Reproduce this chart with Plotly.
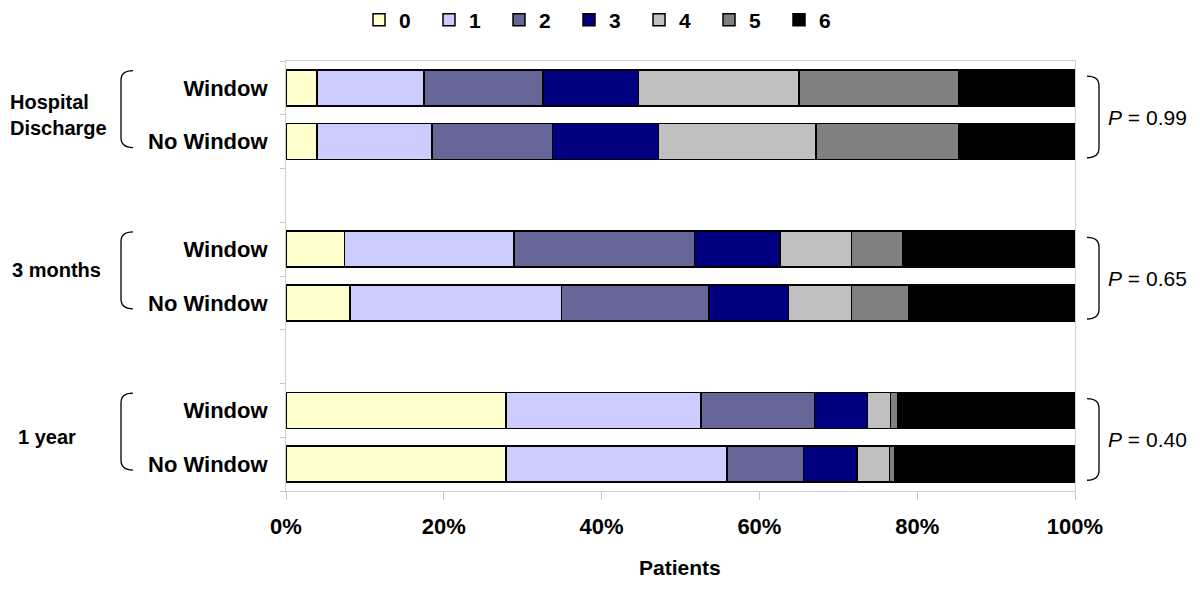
import plotly.graph_objects as go

# ---- data ----
groups = ["Hospital<br>Discharge", "3 months", "1 year"]
arms = ["Window", "No Window"]
scores = ["0", "1", "2", "3", "4", "5", "6"]
colors = ["#FFFFCC", "#CCCCFF", "#666699", "#000080", "#C0C0C0", "#808080", "#000000"]
p_values = ["0.99", "0.65", "0.40"]
x_ticks = [0, 20, 40, 60, 80, 100]
x_ticklabels = ["0%", "20%", "40%", "60%", "80%", "100%"]

# percentage of patients per score, rows: HD-W, HD-NW, 3m-W, 3m-NW, 1y-W, 1y-NW
score0 = [3.9, 3.9, 7.4, 8.1, 27.9, 27.9]
score1 = [13.6, 14.6, 21.5, 26.8, 24.7, 28.0]
score2 = [15.1, 15.3, 22.9, 18.7, 14.4, 9.7]
score3 = [12.1, 13.4, 10.8, 10.1, 6.7, 6.8]
score4 = [20.3, 20.0, 9.1, 8.0, 2.9, 4.1]
score5 = [20.3, 18.1, 6.5, 7.2, 0.9, 0.7]
score6 = [14.7, 14.7, 21.8, 21.1, 22.5, 22.8]
series = [score0, score1, score2, score3, score4, score5, score6]

# ---- layout helpers ----
FONT = "Arial, Liberation Sans, sans-serif"
OFF = 8                      # page body margin
W, H = 1200, 594
PX0, PX1, PY0, PY1 = 286, 1075, 61, 491   # plot area in page pixels
L = PX0 - OFF
R = W - (PX1 - OFF)
T = PY0 - OFF
B = H - (PY1 - OFF)
PW = PX1 - PX0
PH = PY1 - PY0

def px2paper(px):
    return (px - PX0) / PW

def py2paper(py):
    return (PY1 - py) / PH

# y positions: two bars per group, one empty slot between groups
ypos = []
ylabels = []
for g in range(len(groups)):
    for a in range(len(arms)):
        ypos.append(g * 3 + a)
        ylabels.append(arms[a])

fig = go.Figure()
for s, vals, col in zip(scores, series, colors):
    fig.add_trace(go.Bar(
        x=vals, y=ypos, orientation="h", name=s,
        marker=dict(color=col, line=dict(color="#000000", width=1.5)),
    ))

shapes = []
annotations = []
ry = 0.18
label_shift = [0, 6, 0]
label_px = [9, 11, 17]
for g in range(len(groups)):
    first, last = g * 3, g * 3 + 1
    # left brace
    xv, xt = px2paper(121), px2paper(133)
    y0, y1 = first - 0.32, last + 0.11
    shapes.append(dict(type="path", xref="paper", yref="y",
        path=f"M {xt},{y0} Q {xv},{y0} {xv},{y0+ry} L {xv},{y1-ry} Q {xv},{y1} {xt},{y1}",
        line=dict(color="#000000", width=1.3)))
    # right brace
    xv, xt = px2paper(1099), px2paper(1087)
    y0, y1 = first - 0.22, last + 0.30
    shapes.append(dict(type="path", xref="paper", yref="y",
        path=f"M {xt},{y0} Q {xv},{y0} {xv},{y0+ry} L {xv},{y1-ry} Q {xv},{y1} {xt},{y1}",
        line=dict(color="#000000", width=1.3)))
    # group label
    annotations.append(dict(text=f"<b>{groups[g]}</b>", xref="paper", yref="y",
        x=px2paper(label_px[g]), y=(first + last) / 2, yshift=label_shift[g],
        xanchor="left", yanchor="middle", align="left", showarrow=False, borderpad=0,
        font=dict(family=FONT, size=20, color="#000000")))
    # p value
    annotations.append(dict(text=f"<i>P</i> = {p_values[g]}", xref="paper", yref="y",
        x=px2paper(1106), y=(first + last) / 2 + 0.05,
        xanchor="left", yanchor="middle", showarrow=False,
        font=dict(family=FONT, size=21, color="#000000")))

annotations.append(dict(text="<b>Patients</b>", xref="paper", yref="paper",
    x=px2paper(680), y=py2paper(567), xanchor="center", yanchor="middle",
    showarrow=False, font=dict(family=FONT, size=21, color="#000000")))

fig.update_layout(
    width=W, height=H,
    barmode="stack", bargap=0.33,
    plot_bgcolor="white", paper_bgcolor="white",
    margin=dict(l=L, r=R, t=T, b=B, pad=0, autoexpand=False),
    font=dict(family=FONT, color="#000000"),
    showlegend=True,
    legend=dict(orientation="h", xref="container", yref="container",
                x=(359 - OFF) / W, xanchor="left",
                y=1 - (20 - OFF) / H, yanchor="middle",
                font=dict(family=FONT, size=21, color="#000000", weight="bold"),
                itemwidth=30, entrywidth=25, entrywidthmode="pixels",
                traceorder="normal", bgcolor="rgba(0,0,0,0)"),
    xaxis=dict(range=[0, 100], tickmode="array", tickvals=x_ticks,
               ticktext=[f"<b>{t}</b>" for t in x_ticklabels],
               tickfont=dict(family=FONT, size=22, color="#000000"),
               ticks="outside", ticklen=8, tickcolor="#c8c8c8",
               ticklabelstandoff=8,
               showline=True, linecolor="#d0d0d0", linewidth=1, mirror=True,
               showgrid=False, zeroline=False, fixedrange=True, automargin=False),
    yaxis=dict(range=[7.5, -0.5], tickmode="array", tickvals=ypos,
               ticktext=[f"<b>{t}</b>" for t in ylabels],
               tickfont=dict(family=FONT, size=22, color="#000000"),
               ticks="", ticklabelstandoff=13,
               minor=dict(tickvals=[i - 0.5 for i in range(9)], ticks="outside",
                          ticklen=5, tickcolor="#c8c8c8", showgrid=False),
               showline=True, linecolor="#d0d0d0", linewidth=1, mirror=True,
               showgrid=False, zeroline=False, fixedrange=True, automargin=False),
    shapes=shapes, annotations=annotations,
)

fig.write_html("out.html")
